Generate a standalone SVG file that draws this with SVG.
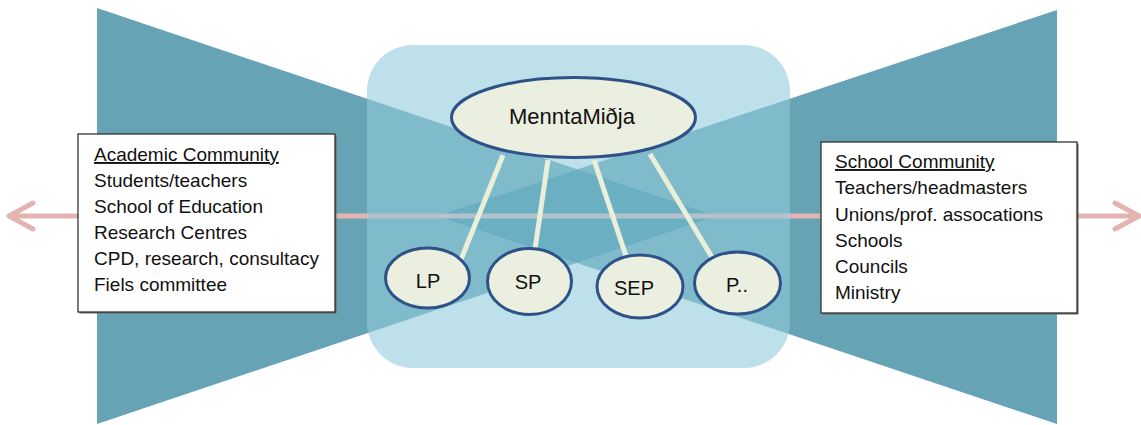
<svg xmlns="http://www.w3.org/2000/svg" width="1141" height="425" viewBox="0 0 1141 425">
  <style>
    .tri { fill: #1B7691; fill-opacity: 0.67; }
    .hub { fill: #91CBDC; fill-opacity: 0.6; }
    .arrow { fill: none; stroke: #E6B3B3; stroke-width: 5; stroke-linecap: round; stroke-linejoin: round; }
    .conn { stroke: #EAEFD9; stroke-width: 5; }
    .node { fill: #EBEFDF; stroke: #2E5288; stroke-width: 3; }
    .box { fill: #FFFFFF; stroke: #333333; stroke-width: 1.3; }
    .shadow { fill: #666666; }
    .t { font-family: "Liberation Sans", Arial, sans-serif; font-size: 19px; fill: #111111; }
    .tn { font-family: "Liberation Sans", Arial, sans-serif; font-size: 20px; fill: #111111; text-anchor: middle; }
    .u { text-decoration: underline; }
  </style>

  <g id="background">
    <polygon class="tri" points="97,8 716,216 97,424"/>
    <polygon class="tri" points="1057,10 437,216 1057,424"/>
  </g>

  <g id="axis-arrow">
    <line class="arrow" x1="10" y1="216" x2="1137" y2="216"/>
    <polyline class="arrow" points="33,203 9,216 33,229"/>
    <polyline class="arrow" points="1115,203 1139,216 1115,229"/>
  </g>

  <g id="hub-area">
    <rect class="hub" x="367" y="45" width="423" height="323" rx="46" ry="46"/>
  </g>

  <g id="connectors">
    <line class="conn" x1="503" y1="155" x2="460" y2="262"/>
    <line class="conn" x1="548" y1="160" x2="535" y2="249"/>
    <line class="conn" x1="594" y1="160" x2="626" y2="256"/>
    <line class="conn" x1="650" y1="154" x2="713" y2="259"/>
  </g>

  <g id="node-menntamidja">
    <ellipse class="node" cx="573.5" cy="117.5" rx="122" ry="40"/>
    <text class="tn" x="572" y="124" style="font-size:22px">MenntaMiðja</text>
  </g>

  <g id="node-lp">
    <ellipse class="node" cx="427.5" cy="278" rx="42" ry="30"/>
    <text class="tn" x="428" y="288">LP</text>
  </g>

  <g id="node-sp">
    <ellipse class="node" cx="529.5" cy="281.5" rx="42" ry="33"/>
    <text class="tn" x="528" y="289">SP</text>
  </g>

  <g id="node-sep">
    <ellipse class="node" cx="640" cy="286.5" rx="43" ry="31.5"/>
    <text class="tn" x="634" y="295">SEP</text>
  </g>

  <g id="node-p">
    <ellipse class="node" cx="737.5" cy="283" rx="43" ry="31"/>
    <text class="tn" x="737" y="292">P..</text>
  </g>

  <g id="node-academic">
    <rect class="shadow" x="79.5" y="135.5" width="257" height="178"/>
    <rect class="box" x="78" y="134" width="257" height="178"/>
    <text class="t u" x="94" y="161">Academic Community</text>
    <text class="t" x="94" y="187">Students/teachers</text>
    <text class="t" x="94" y="213">School of Education</text>
    <text class="t" x="94" y="239">Research Centres</text>
    <text class="t" x="94" y="265">CPD, research, consultacy</text>
    <text class="t" x="94" y="291">Fiels committee</text>
  </g>

  <g id="node-school">
    <rect class="shadow" x="822.5" y="143.5" width="256" height="171"/>
    <rect class="box" x="821" y="142" width="256" height="171"/>
    <text class="t u" x="835" y="168">School Community</text>
    <text class="t" x="835" y="194">Teachers/headmasters</text>
    <text class="t" x="835" y="221">Unions/prof. assocations</text>
    <text class="t" x="835" y="247">Schools</text>
    <text class="t" x="835" y="273">Councils</text>
    <text class="t" x="835" y="299">Ministry</text>
  </g>
</svg>
